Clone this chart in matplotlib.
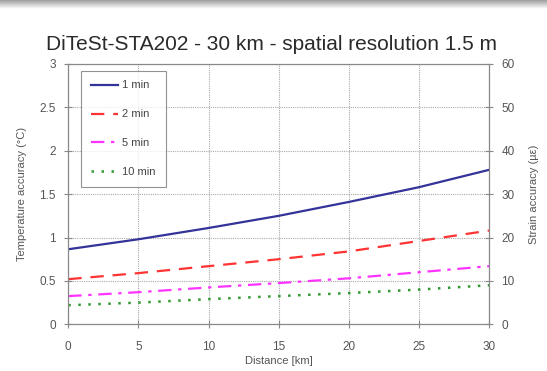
import numpy as np
import matplotlib
matplotlib.use("Agg")
import matplotlib.pyplot as plt

distance = [0, 5, 10, 15, 20, 25, 30]
t_1min = [0.865, 0.98, 1.11, 1.25, 1.41, 1.58, 1.78]
t_2min = [0.52, 0.59, 0.67, 0.75, 0.84, 0.96, 1.08]
t_5min = [0.325, 0.37, 0.425, 0.475, 0.53, 0.60, 0.67]
t_10min = [0.22, 0.25, 0.29, 0.325, 0.36, 0.40, 0.45]
labels = ["1 min", "2 min", "5 min", "10 min"]
title = "DiTeSt-STA202 - 30 km - spatial resolution 1.5 m"

plt.rcParams['font.family'] = ['Liberation Sans', 'DejaVu Sans']

W, H = 547, 371
fig = plt.figure(figsize=(W / 100, H / 100), dpi=100)
fig.patch.set_facecolor('white')

# top gray gradient band
band = fig.add_axes([0, 1 - 9 / H, 1, 9 / H])
grad = np.linspace(0.62, 1.0, 50).reshape(-1, 1)
band.imshow(np.repeat(grad, 10, axis=1), cmap='gray', vmin=0, vmax=1, aspect='auto',
            extent=[0, 1, 0, 1])
band.axis('off')

ax = fig.add_axes([68.3 / W, 1 - 324.3 / H, (489 - 68.3) / W, (324.3 - 64) / H])
gray = '#555555'
ax.plot(distance, t_1min, color='#333399', lw=1.6, ls='-', label=labels[0])
ax.plot(distance, t_2min, color='#ff3333', lw=1.6, ls=(0, (6, 4)), label=labels[1])
ax.plot(distance, t_5min, color='#ff33ff', lw=1.6, ls=(0, (6, 3, 1.5, 3)), label=labels[2])
ax.plot(distance, t_10min, color='#339933', lw=1.8, ls=(0, (1, 3)), label=labels[3])

ax.set_xlim(0, 30)
ax.set_ylim(0, 3)
ax.set_xticks(range(0, 31, 5))
ax.set_yticks([0, 0.5, 1, 1.5, 2, 2.5, 3])
ax.set_yticklabels(['0', '0.5', '1', '1.5', '2', '2.5', '3'])
ax.grid(True, color='#aaaaaa', lw=0.8, ls=(0, (1, 1)))
for s in ax.spines.values():
    s.set_color('#888888')
ax.tick_params(direction='inout', length=6, color='#888888', labelcolor=gray, labelsize=8.5)
ax.tick_params(axis='x', pad=9)
ax.tick_params(axis='y', pad=6)
ax.set_xlabel("Distance [km]", fontsize=8, color=gray, labelpad=2)
ax.set_ylabel("Temperature accuracy (°C)", fontsize=8, color=gray, labelpad=9)

ax2 = ax.twinx()
ax2.set_ylim(0, 60)
ax2.set_yticks(range(0, 61, 10))
ax2.tick_params(direction='inout', length=6, color='#888888', labelcolor=gray, labelsize=8.5, pad=6)
for s in ax2.spines.values():
    s.set_color('#888888')
ax2.set_ylabel("Strain accuracy (µε)", fontsize=8, color=gray, labelpad=10)

leg = ax.legend(loc='upper left', bbox_to_anchor=(13 / 420.7, 1 - 6.5 / 260.3),
                fontsize=8, frameon=True, fancybox=False, labelspacing=1.7,
                handlelength=2.4, handletextpad=0.4, borderpad=0.9, borderaxespad=0)
leg.get_frame().set_edgecolor('#777777')
leg.get_frame().set_linewidth(0.8)
for t in leg.get_texts():
    t.set_color('#444444')

fig.text(271.7 / W, 1 - 50 / H, title, ha='center', va='baseline', fontsize=15, color='#2a2a2a')

fig.savefig("out.png", dpi=100)
